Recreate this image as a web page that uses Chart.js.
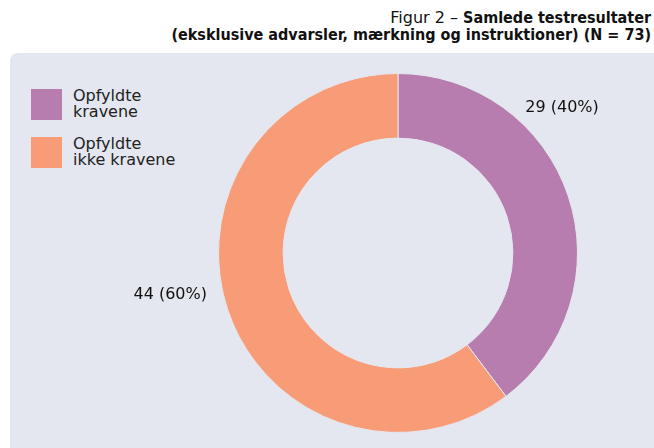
<!DOCTYPE html>
<html>
<head>
<meta charset="utf-8">
<script src="https://cdn.jsdelivr.net/npm/chart.js@4"></script>
<style>
  html, body { margin: 0; padding: 0; background: #fff; }
  #wrap { position: relative; width: 654px; height: 448px; overflow: hidden; font-family: "DejaVu Sans", sans-serif; }
  #titel { position: absolute; right: 3px; top: 9px; text-align: right; font-family: "DejaVu Sans Condensed", sans-serif; font-size: 16px; line-height: 17px; color: #111; }
  #titel span { font-family: "DejaVu Sans", sans-serif; }
  #titel b { font-weight: bold; }
  #panel { position: absolute; left: 10px; top: 53px; width: 660px; height: 420px; background: #e4e7ef; border-radius: 8px; }
  #legend { position: absolute; left: 31px; top: 88px; }
  .item { display: flex; align-items: center; margin-bottom: 16px; }
  .box { width: 31px; height: 31px; margin-right: 11px; }
  .txt { font-size: 16px; line-height: 16px; color: #222; }
  canvas { position: absolute; left: 0; top: 0; }
</style>
</head>
<body>
<div id="wrap">
  <div id="titel"><span>Figur 2 – </span><b>Samlede testresultater</b><br><b>(eksklusive advarsler, mærkning og instruktioner) (N = 73)</b></div>
  <div id="panel"></div>
  <div id="legend"></div>
  <canvas id="chart" width="654" height="448"></canvas>
</div>
<script>
const kategorier = ["Opfyldte\nkravene", "Opfyldte\nikke kravene"];
const antal = [29, 44];
const procent = [40, 60];
const farver = ["#b87daf", "#f89c78"];

// placering af tal-etiketter: vinkel (grader) og afstand i forhold til ydre radius
const etiketVinkel = [-41.5, 169.6];
const etiketAfstand = [1.22, 1.29];

function lavLegende() {
    const el = document.getElementById("legend");
    kategorier.forEach((k, i) => {
        const item = document.createElement("div");
        item.className = "item";
        item.innerHTML = '<div class="box" style="background:' + farver[i] + '"></div>' +
            '<div class="txt">' + k.replace("\n", "<br>") + '</div>';
        el.appendChild(item);
    });
}

const etiketter = {
    id: "etiketter",
    afterDatasetsDraw(chart) {
        const ctx = chart.ctx;
        const meta = chart.getDatasetMeta(0);
        ctx.save();
        ctx.font = '16px "DejaVu Sans"';
        ctx.fillStyle = "#111";
        ctx.textAlign = "center";
        ctx.textBaseline = "middle";
        meta.data.forEach((arc, i) => {
            const a = etiketVinkel[i] * Math.PI / 180;
            const r = arc.outerRadius * etiketAfstand[i];
            ctx.fillText(antal[i] + " (" + procent[i] + "%)", arc.x + r * Math.cos(a), arc.y + r * Math.sin(a));
        });
        ctx.restore();
    }
};

let diagram;

function tegnDiagram() {
    diagram = new Chart(document.getElementById("chart"), {
        type: "doughnut",
        data: {
            labels: kategorier.map(k => k.replace("\n", " ")),
            datasets: [{
                data: antal,
                backgroundColor: farver,
                borderColor: "#e4e7ef",
                borderWidth: 1,
                hoverOffset: 0
            }]
        },
        options: {
            responsive: false,
            animation: false,
            cutout: "64%",
            layout: { padding: { left: 218, right: 76, top: 73, bottom: 15 } },
            plugins: {
                legend: { display: false },
                tooltip: { enabled: false }
            }
        },
        plugins: [etiketter]
    });
}

document.addEventListener("DOMContentLoaded", function () {
    lavLegende();
    tegnDiagram();
});
</script>
</body>
</html>
